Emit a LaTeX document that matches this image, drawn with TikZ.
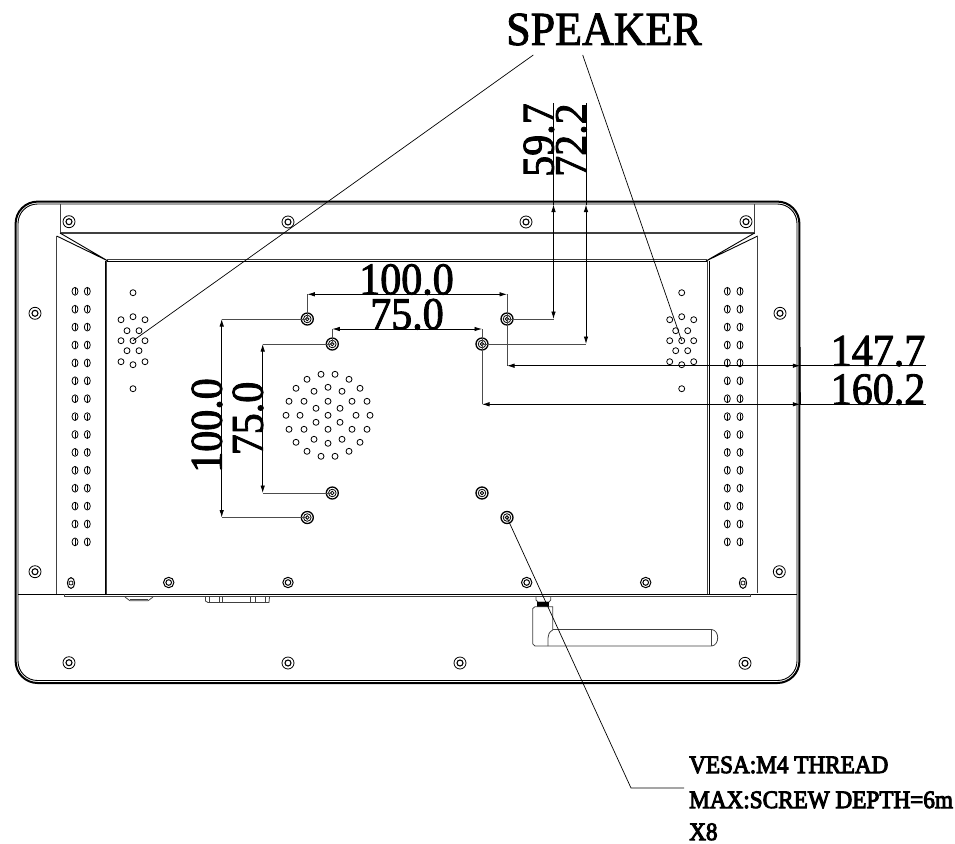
\documentclass[tikz,border=0pt]{standalone}
\usepackage{fontspec}
\usepackage{graphicx}
\usetikzlibrary{arrows.meta}
\setmainfont{Liberation Serif}
\newfontfamily\dimfont[FakeBold=2]{Liberation Serif}
\newfontfamily\notefont[FakeBold=4]{Liberation Serif}
\newcommand{\tallnum}[1]{\scalebox{1}[1.08]{#1}}
\tikzset{
  panel/.style={line width=0.8pt,color=black!75},
  edge/.style={line width=0.9pt,color=black},
  leader/.style={line width=0.7pt,color=black},
  hole/.style={circle,draw,line width=0.8pt,inner sep=0pt,minimum size=6pt},
  dimline/.style={line width=0.8pt,color=black},
  extline/.style={line width=0.9pt,color=black!70},
  dimtips/.style={{Latex[length=7.5pt,width=4.5pt]}-{Latex[length=7.5pt,width=4.5pt]}},
  dimtext/.style={inner sep=0pt,font=\dimfont\fontsize{42}{42}\selectfont},
  notetext/.style={inner sep=0pt,anchor=base west,font=\notefont\fontsize{23.2}{24}\selectfont}
}
\begin{document}
\begin{tikzpicture}[x=1pt,y=-1pt]
\useasboundingbox (0,0) rectangle (955,843);
%Shape: Frame
\draw [line width=2pt,rounded corners=22pt] (15.6,201.6) rectangle (799.4,683);
\draw [edge,rounded corners=19.5pt] (18,204) rectangle (797,680.5);
%Straight Lines: top bracket
\draw [panel] (60,204) -- (60,233) -- (754.5,233) -- (754.5,204);
\draw [panel] (60,232) -- (754.5,232);
%Straight Lines: chamfers
\draw [edge] (60,233) -- (108,261) -- (56.7,236) ;
\draw [edge] (754.5,233) -- (706,261) -- (757.7,236) ;
%Straight Lines: side panels
\draw [panel] (56.7,236) -- (56.7,594);
\draw [panel] (757.7,236) -- (757.7,593);
\draw [edge] (105,261) -- (105,595);
\draw [panel] (106.8,261) -- (106.8,595);
\draw [edge] (709.5,261) -- (709.5,595);
\draw [panel] (707.7,261) -- (707.7,595);
\draw [panel] (107,259.3) -- (707,259.3);
\draw [edge] (107,261.8) -- (707,261.8);
%Straight Lines: lower edge
\draw [edge] (18,594) -- (797,594);
\draw [panel] (64,596.6) -- (750,596.6);
\draw [panel] (64,594) -- (64,596.6);
\draw [panel] (750,594) -- (750,596.6);
%Shape: Side slots
\foreach \y in {0,...,14}{
  \foreach \x in {75,87.3,727.3,740}{
    \draw [line width=0.8pt] (\x,291.3+17.9*\y) ellipse [x radius=3,y radius=3.9];
    \draw [line width=0.7pt] (\x,288.3+17.9*\y) -- (\x,294.3+17.9*\y);
  }
}
%Shape: Side speakers
\foreach \cx/\name in {133/L,681.7/R}{
  \node [hole] (hole\name) at (\cx,340.7) {};
  \foreach \dx/\dy in {0/-48,0/-24,-12/-21,12/-21,-6/-10,6/-10,-12/0,12/0,-6/10,6/10,-12/21,0/24,12/21,0/48}{
    \node [hole] at (\cx+\dx,340.7+\dy) {};
  }
}
%Shape: Centre speaker
\foreach \dx/\dy in {0/-28,0/-14,0/0,0/14,0/28,-28/0,28/0}{
  \node [hole] at (328+\dx,415.3+\dy) {};
}
\foreach \sx/\sy in {-1/-1,1/-1,-1/1,1/1}{
  \foreach \dx/\dy in {7/41,21/36,32/27,39/14,14/24,24/14,12/7}{
    \node [hole] at (328+\sx*\dx,415.3+\sy*\dy) {};
  }
}
\foreach \sx in {-1,1}{ \node [hole] at (328+\sx*42,415.3) {}; }
%Shape: Frame screws
\foreach \x/\y in {35/313.3,35/571.7,780/313.3,779.3/571.7,69/221.7,288/222,526/222,746/221.7,69/662.7,288/663,460/663,745/663.3}{
  \draw [line width=0.8pt] (\x,\y) circle [radius=6];
  \draw [line width=1.1pt] (\x,\y) circle [radius=3];
}
\foreach \x in {168.7,288,526.7,645.7}{
  \draw [line width=1pt] (\x,582.5) circle [radius=5.2];
  \draw [line width=1pt] (\x,582.5) circle [radius=2.8];
}
\foreach \x in {71,743}{
  \draw [line width=1pt] (\x,583) ellipse [x radius=3.6,y radius=5.4];
  \draw [line width=0.7pt] (\x,583) circle [radius=2];
}
%Shape: VESA screws
\foreach \x/\y/\name in {307.3/319/A,507/319/B,307.3/517.5/C,507/517.5/D,332.3/344/E,482/344/F,332.3/493/G,482/493/H}{
  \coordinate (vesa\name) at (\x,\y);
  \draw [line width=1.3pt] (\x,\y) circle [radius=6];
  \draw [line width=0.8pt] (\x,\y) circle [radius=3.8];
  \draw [line width=0.8pt] (\x,\y) circle [radius=1.8];
}
%Shape: Bottom connectors
\draw [panel] (125,597) -- (130,600.8) -- (148,600.8) -- (153,597);
\draw [panel] (130,599) -- (148,599);
\draw [panel] (205.5,597) -- (205.5,601) -- (208,602.5) -- (269,602.5) -- (269.5,597);
\foreach \x in {209,219,222,250,255,265}{ \draw [panel] (\x,597) -- (\x,602.5); }
%Shape: Antenna
\draw [panel] (536,597) -- (536,600) -- (538,602) -- (549,602) -- (550.7,600) -- (550.7,597);
\fill (537,602) rectangle (549,606.5);
\draw [panel] (532.8,644) -- (532.8,608.5) -- (535,606.7) -- (552.7,606.7) -- (552.7,630);
\draw [panel] (552.7,630) .. controls (549,632) and (548,635) .. (548,638) -- (548,646);
\draw [panel] (532.8,644) -- (535,646) -- (711.7,646);
\draw [panel] (552.7,629.5) -- (711.7,629.5);
\draw [panel] (711.7,629.5) -- (711.7,646);
\draw [panel] (711.7,629.5) .. controls (719.7,630.5) and (719.7,645) .. (711.7,646);
%Coordinates of the dimension lines
\coordinate (dimTopA) at (0,294.3);
\coordinate (dimTopB) at (0,329);
\coordinate (dimLeftA) at (221.7,0);
\coordinate (dimLeftB) at (262.7,0);
\coordinate (dimUpA) at (553.5,0);
\coordinate (dimUpB) at (586,0);
\coordinate (dimRightA) at (0,365.7);
\coordinate (dimRightB) at (0,404.3);
\coordinate (frameTop) at (0,204.5);
\coordinate (frameRight) at (800.3,0);
%Straight Lines: extension lines
\draw [extline] (vesaA) -- (vesaA |- dimTopA);
\draw [extline] (vesaB) -- (vesaB |- dimTopA);
\draw [extline] (vesaE) -- (vesaE |- dimTopB);
\draw [extline] (vesaF) -- (vesaF |- dimTopB);
\draw [extline] (vesaA) -- (dimLeftA |- vesaA);
\draw [extline] (vesaC) -- (dimLeftA |- vesaC);
\draw [extline] (vesaE) -- (dimLeftB |- vesaE);
\draw [extline] (vesaG) -- (dimLeftB |- vesaG);
\draw [extline] (vesaB) -- (dimUpA |- vesaB);
\draw [extline] (vesaF) -- (dimUpB |- vesaF);
\draw [extline] (vesaB) -- (vesaB |- dimRightA);
\draw [extline] (vesaF) -- (vesaF |- dimRightB);
%Straight Lines: dimension lines
\draw [dimline,dimtips] (vesaA |- dimTopA) -- (vesaB |- dimTopA);
\draw [dimline,dimtips] (vesaE |- dimTopB) -- (vesaF |- dimTopB);
\draw [dimline,dimtips] (dimLeftA |- vesaA) -- (dimLeftA |- vesaC);
\draw [dimline,dimtips] (dimLeftB |- vesaE) -- (dimLeftB |- vesaG);
\draw [dimline,dimtips] (dimUpA |- vesaB) -- (dimUpA |- frameTop);
\draw [dimline,dimtips] (dimUpB |- vesaF) -- (dimUpB |- frameTop);
\draw [dimline,dimtips] (vesaB |- dimRightA) -- (frameRight |- dimRightA);
\draw [dimline,dimtips] (vesaF |- dimRightB) -- (frameRight |- dimRightB);
\draw [line width=1pt] (800,347) -- (frameRight |- dimRightB);
% Text Node
\node [dimtext,anchor=base] (txtHundredH) at (406.5,294.3) {\tallnum{100.0}};
\node [dimtext,anchor=base] (txtSeventyH) at (407,329) {\tallnum{75.0}};
\node [dimtext,anchor=base,rotate=90] (txtHundredV) at (221.7,425.5) {\tallnum{100.0}};
\node [dimtext,anchor=base,rotate=90] (txtSeventyV) at (262.7,418.5) {\tallnum{75.0}};
\node [dimtext,anchor=base west,rotate=90] (txtUpA) at (553.5,177) {\tallnum{59.7}};
\node [dimtext,anchor=base west,rotate=90] (txtUpB) at (586,177) {\tallnum{72.2}};
\node [dimtext,anchor=base east] (txtRightA) at (925.5,365.7) {\tallnum{147.7}};
\node [dimtext,anchor=base east] (txtRightB) at (925.5,404.3) {\tallnum{160.2}};
\node [dimtext,anchor=base west,font=\dimfont\fontsize{44}{44}\selectfont] (txtSpeaker) at (506,45) {\tallnum{SPEAKER}};
\node [notetext] (txtVesa) at (689,773) {\tallnum{VESA:M4 THREAD}};
\node [notetext] (txtDepth) at (689,808) {\tallnum{MAX:SCREW DEPTH=6m}};
\node [notetext] (txtCount) at (689,840) {\tallnum{X8}};
%Straight Lines: continued dimension lines
\draw [dimline] (frameRight |- dimRightA) -- (txtRightA.base east);
\draw [dimline] (frameRight |- dimRightB) -- (txtRightB.base east);
\draw [dimline] (dimUpA |- frameTop) -- (txtUpA.base east);
\draw [dimline] (dimUpB |- frameTop) -- (txtUpB.base east);
%Straight Lines: leaders
\coordinate (spkLeft) at (533.3,55);
\coordinate (spkRight) at (582.7,55);
\coordinate (vesaKnee) at (631,788);
\coordinate (vesaEnd) at (684,788);
\draw [leader] (spkLeft) -- (holeL.center);
\draw [leader] (spkRight) -- (holeR.center);
\draw [leader] (vesaD) -- (vesaKnee) -- (vesaEnd);
\end{tikzpicture}
\end{document}
